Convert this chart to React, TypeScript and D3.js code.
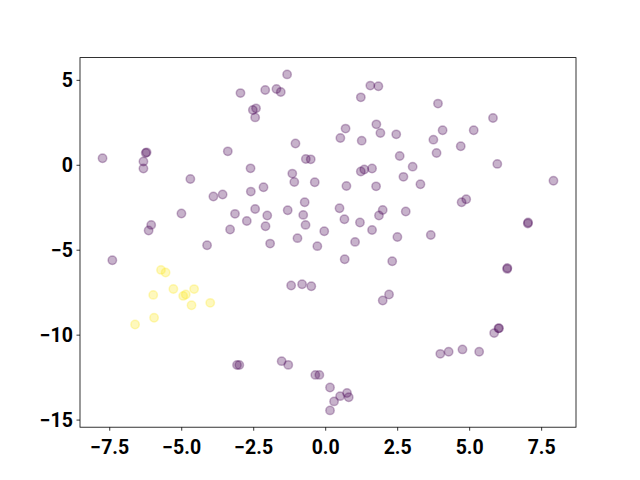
import React from "react";
import * as d3 from "d3";

const purpleX = [
  -2.96, -6.25, -6.22, -7.75, -6.33, -6.33, -3.40, -4.70, -1.34, -2.10, -1.71, -1.56, -2.53, -2.42, -2.45,
  1.55, 1.83, 1.22, 1.76, 0.69, 0.51, 1.25, 1.90, 2.45, -1.05, -0.69, -0.52, -2.61, -1.16, -1.09, -0.38,
  2.57, 3.02, 2.70, 1.22, 1.34, 1.61, 0.72, 1.75, 3.90, 5.81, 4.06, 5.14, 3.74, 4.69, 3.85, 5.96, 3.29, 7.91,
  -3.90, -3.58, -2.60, -2.16, -5.01, -3.15, -2.74, -6.06, -6.15, -3.32, -4.12, -7.41, -2.45, -2.03, -2.09,
  -1.32, -0.73, -0.78, -0.70, -0.05, -0.98, -1.93, -0.29, 0.48, 0.65, 1.19, 1.61, 1.98, 1.85, 2.78, 2.49,
  1.02, 0.66, 2.31, -1.20, -0.82, -0.50, 2.20, 1.98, 4.88, 4.72, 7.03, 7.02, 3.65, 6.30, 6.31, -3.08, -3.00,
  -1.53, -1.30, -0.36, -0.22, 0.15, 0.50, 0.74, 0.80, 0.29, 0.15, 6.02, 6.00, 5.85, 3.98, 4.27, 4.75, 5.33,
];
const purpleY = [
  4.25, 0.72, 0.76, 0.41, 0.22, -0.19, 0.82, -0.81, 5.35, 4.43, 4.49, 4.31, 3.25, 3.35, 2.82,
  4.69, 4.65, 4.00, 2.41, 2.16, 1.61, 1.45, 1.90, 1.82, 1.28, 0.37, 0.35, -0.18, -0.49, -0.98, -1.00,
  0.55, -0.08, -0.68, -0.37, -0.25, -0.19, -1.22, -1.24, 3.63, 2.78, 2.06, 2.06, 1.51, 1.12, 0.72, 0.08, -1.12, -0.91,
  -1.84, -1.72, -1.55, -1.29, -2.84, -2.86, -3.28, -3.51, -3.84, -3.78, -4.71, -5.59, -2.57, -2.96, -3.59,
  -2.65, -2.18, -2.92, -3.51, -3.88, -4.29, -4.61, -4.76, -2.53, -3.18, -3.37, -3.81, -2.63, -2.96, -2.72, -4.22,
  -4.51, -5.53, -5.65, -7.08, -7.00, -7.12, -7.61, -7.96, -2.00, -2.18, -3.37, -3.43, -4.10, -6.10, -6.05, -11.76, -11.76,
  -11.53, -11.75, -12.34, -12.34, -13.08, -13.59, -13.41, -13.66, -13.90, -14.43, -9.59, -9.60, -9.88, -11.10, -10.98, -10.84, -10.98,
];
const yellowX = [-5.72, -5.56, -5.29, -4.57, -5.99, -4.95, -4.86, -4.01, -4.66, -5.96, -6.62];
const yellowY = [-6.16, -6.31, -7.28, -7.29, -7.63, -7.69, -7.61, -8.10, -8.24, -8.98, -9.37];

const xTicks = [-7.5, -5.0, -2.5, 0.0, 2.5, 5.0, 7.5];
const yTicks = [-15, -10, -5, 0, 5];

const W = 640;
const H = 480;
const L = 80, R = 576, T = 57.6, B = 427.2;

function pad(ext: [number, number]): [number, number] {
  const r = ext[1] - ext[0];
  return [ext[0] - 0.05 * r, ext[1] + 0.05 * r];
}

export default function App() {
  const allX = [...purpleX, ...yellowX];
  const allY = [...purpleY, ...yellowY];
  const x = d3.scaleLinear().domain(pad(d3.extent(allX) as [number, number])).range([L, R]);
  const y = d3.scaleLinear().domain(pad(d3.extent(allY) as [number, number])).range([B, T]);
  const fmtX = (v: number) => v.toFixed(1).replace("-", "\u2212");
  const fmtY = (v: number) => String(v).replace("-", "\u2212");
  const font = "Roboto, 'DejaVu Sans', sans-serif";
  const purple = "rgba(68,1,84,0.3)";
  const yellow = "rgba(253,231,37,0.3)";
  const r = 4.2;

  return (
    <svg width={W} height={H} style={{ position: "absolute", left: 0, top: 0, background: "white" }}>
      <rect x={0} y={0} width={W} height={H} fill="white" />
      {purpleX.map((v, i) => (
        <circle key={"p" + i} cx={x(v)} cy={y(purpleY[i])} r={r} fill={purple} stroke={purple} strokeWidth={1.5} />
      ))}
      {yellowX.map((v, i) => (
        <circle key={"y" + i} cx={x(v)} cy={y(yellowY[i])} r={r} fill={yellow} stroke={yellow} strokeWidth={1.5} />
      ))}
      <rect x={L} y={T} width={R - L} height={B - T} fill="none" stroke="black" strokeWidth={0.8} />
      {xTicks.map((t) => (
        <g key={"xt" + t}>
          <line x1={x(t)} x2={x(t)} y1={B} y2={B + 3.5} stroke="black" strokeWidth={0.8} />
          <text x={x(t)} y={454} textAnchor="middle" fontFamily={font} fontWeight={700} fontSize={19.5} fill="black">
            {fmtX(t)}
          </text>
        </g>
      ))}
      {yTicks.map((t) => (
        <g key={"yt" + t}>
          <line x1={L - 3.5} x2={L} y1={y(t)} y2={y(t)} stroke="black" strokeWidth={0.8} />
          <text x={L - 7} y={y(t) + 7} textAnchor="end" fontFamily={font} fontWeight={700} fontSize={19.5} fill="black">
            {fmtY(t)}
          </text>
        </g>
      ))}
    </svg>
  );
}
